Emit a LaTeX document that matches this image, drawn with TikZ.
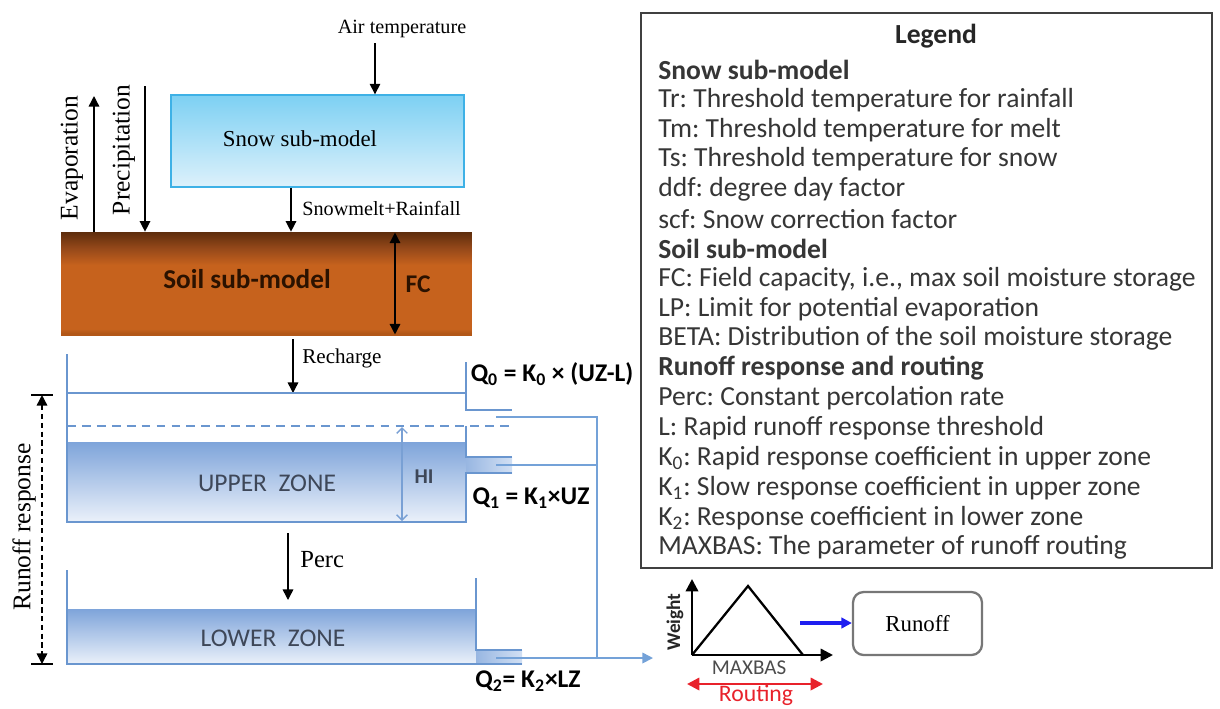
\documentclass[tikz,border=0pt]{standalone}
\usepackage{fontspec}
\setmainfont{Liberation Serif}
\newfontfamily\calibri{Carlito}
\usetikzlibrary{arrows.meta,shapes.misc}
\frenchspacing
\definecolor{snowT}{HTML}{7DD0F3}
\definecolor{snowB}{HTML}{DDF1FB}
\definecolor{snowE}{HTML}{3EB1E6}
\definecolor{soilT}{HTML}{5E2D0C}
\definecolor{soilM}{HTML}{96491A}
\definecolor{soilB}{HTML}{C6621D}
\definecolor{soilE}{HTML}{B25717}
\definecolor{tank}{HTML}{6A96CF}
\definecolor{waterT}{HTML}{7EA4DA}
\definecolor{waterB}{HTML}{EBF1FA}
\definecolor{pipe}{HTML}{B3CBEC}
\definecolor{flow}{HTML}{74A2D8}
\definecolor{legtext}{HTML}{363636}
\definecolor{zonetext}{HTML}{3E4758}
\definecolor{soiltext}{HTML}{2B1200}
\definecolor{runblue}{HTML}{1E1EF0}
\definecolor{routred}{HTML}{E8222B}
\definecolor{boxgray}{HTML}{777777}
\pgfdeclareverticalshading{soilshade}{100bp}{color(0bp)=(soilE); color(26bp)=(soilE); color(28bp)=(soilB); color(59bp)=(soilB); color(67bp)=(soilM); color(75bp)=(soilT); color(100bp)=(soilT)}
\tikzset{
  fsz/.style={font=\fontsize{#1}{#1}\selectfont},
  arr/.style={-{Triangle[length=6pt,width=6pt]}, line width=0.8pt},
  darr/.style={{Triangle[length=6pt,width=6pt]}-{Triangle[length=6pt,width=6pt]}, line width=0.8pt},
  tankline/.style={draw=tank, line width=1.2pt},
  flowline/.style={draw=flow, line width=0.9pt},
  legline/.style={anchor=west, inner sep=0pt, text=legtext, font=\calibri\fontsize{15.7}{17}\selectfont},
}
\begin{document}
\begin{tikzpicture}[x=0.02cm,y=-0.02cm]
\useasboundingbox (0,0) rectangle (1220,708);

% ---- snow ----
\node[fsz=11.5] (air) at (402,29) {Air temperature};
\node[draw=snowE, line width=0.8pt, top color=snowT, bottom color=snowB,
      minimum width=5.86cm, minimum height=1.84cm, inner sep=0pt] (snow) at (317.5,141) {};
\node[fsz=13] (snowtxt) at (300,139) {Snow sub-model};
\coordinate (airS) at (375,43);
\draw[arr] (airS) -- (airS |- snow.north);

% ---- soil ----
\node[shading=soilshade, minimum width=8.22cm, minimum height=2.06cm, inner sep=0pt] (soil) at (266.5,283.5) {};
\node[font=\calibri\bfseries\fontsize{15.5}{15.5}\selectfont, text=soiltext] (soiltxt) at (247,279) {Soil sub-model};
\node[font=\calibri\bfseries\fontsize{14.5}{14.5}\selectfont, text=soiltext] (fctxt) at (418,284) {FC};
\coordinate (fcx) at (395,0);
\draw[darr] ([yshift=-0.5pt]fcx |- soil.north) -- ([yshift=0.5pt]fcx |- soil.south);

% ---- evaporation / precipitation / snowmelt ----
\coordinate (evT) at (94,96);
\draw[arr] (evT |- soil.north) -- (evT);
\node[fsz=14.5, rotate=90] (evtxt) at (72,158) {Evaporation};
\coordinate (prT) at (145,86);
\draw[arr] (prT) -- (prT |- soil.north);
\node[fsz=14.5, rotate=90] (prtxt) at (124,150) {Precipitation};
\coordinate (smx) at (291,0);
\draw[arr] (smx |- snow.south) -- (smx |- soil.north);
\node[fsz=11.5, anchor=west, inner sep=0pt] (smtxt) at (302,208) {Snowmelt+Rainfall};

% ---- recharge ----
\coordinate (rcT) at (293,339);
\coordinate (rcB) at (293,393);
\draw[arr] (rcT) -- (rcB);
\node[fsz=12, anchor=west, inner sep=0pt] (rctxt) at (302,358) {Recharge};

% ---- upper zone tank ----
\shade[top color=waterT, bottom color=waterB] (67,442) rectangle (466,522);
\shade[left color=waterT!80, right color=pipe!60] (466,457) rectangle (512,473);
\draw[tankline] (67,354) -- (67,522) -- (466,522) -- (466,473) -- (512,473);
\draw[tankline] (466,362) -- (466,410) -- (512,410);
\draw[tankline] (466,426) -- (466,457) -- (512,457);
\draw[tankline] (67,393) -- (466,393);
\draw[tankline, dash pattern=on 5pt off 3.5pt] (67,426) -- (512,426);
\coordinate (hiT) at (402,427);
\coordinate (hiB) at (402,521);
\draw[draw=tank!90, line width=0.8pt, {Straight Barb[length=3pt,width=6pt]}-{Straight Barb[length=3pt,width=6pt]}] (hiT) -- (hiB);
\node[font=\calibri\bfseries\fontsize{12}{12}\selectfont, text=zonetext] (hitxt) at (424,477) {HI};
\node[font=\calibri\fontsize{14.5}{14.5}\selectfont, text=zonetext] (uztxt) at (267,483) {UPPER\ \ ZONE};

% ---- perc ----
\coordinate (pcT) at (288,533);
\coordinate (pcB) at (288,600);
\draw[arr] (pcT) -- (pcB);
\node[fsz=14, anchor=west, inner sep=0pt] (pctxt) at (300,560) {Perc};

% ---- lower zone tank ----
\shade[top color=waterT, bottom color=waterB] (67,609) rectangle (476,664);
\shade[left color=waterT!80, right color=pipe!60] (476,650) rectangle (522,664);
\draw[tankline] (67,570) -- (67,664) -- (522,664);
\draw[tankline] (476,578) -- (476,650) -- (522,650);
\node[font=\calibri\fontsize{14.5}{14.5}\selectfont, text=zonetext] (lztxt) at (273,638) {LOWER\ \ ZONE};

% ---- outflows ----
\coordinate (q0s) at (496,417);
\coordinate (q1s) at (496,465);
\coordinate (q2s) at (496,658);
\coordinate (jn) at (597,417);
\coordinate (jout) at (653,658);
\draw[flowline] (q0s) -- (jn) -- (jn |- jout);
\draw[flowline] (q1s) -- (q1s -| jn);
\draw[flowline, -{Triangle[length=6pt,width=6pt]}] (q2s) -- (jout);
\node[font=\calibri\bfseries\fontsize{14.5}{14.5}\selectfont] (q0) at (552,374) {Q\textsubscript{0} = K\textsubscript{0} × (UZ-L)};
\node[font=\calibri\bfseries\fontsize{14.5}{14.5}\selectfont] (q1) at (531,498) {Q\textsubscript{1} = K\textsubscript{1}×UZ};
\node[font=\calibri\bfseries\fontsize{14.5}{14.5}\selectfont] (q2) at (528,681) {Q\textsubscript{2}= K\textsubscript{2}×LZ};

% ---- runoff response dimension ----
\coordinate (rrT) at (42,395);
\coordinate (rrB) at (42,664);
\draw[line width=0.9pt] ([xshift=-6pt]rrT) -- ([xshift=6pt]rrT);
\draw[line width=0.9pt] ([xshift=-6pt]rrB) -- ([xshift=6pt]rrB);
\draw[line width=0.8pt, dash pattern=on 3pt off 2pt, {Triangle[length=6pt,width=6pt]}-{Triangle[length=6pt,width=6pt]}] (rrT) -- (rrB);
\node[fsz=14.5, rotate=90] (rrtxt) at (24,527) {Runoff response};

% ---- legend ----
\node[draw=black!75, line width=1.1pt, minimum width=11.42cm, minimum height=11.1cm, inner sep=0pt] (legend) at (926.5,290.5) {};
\node[font=\calibri\bfseries\fontsize{15.7}{17}\selectfont, text=black!85] (legtitle) at (936,36) {Legend};
\foreach \t [count=\i from 0] in {
  {\bfseries Snow sub-model},
  {Tr: Threshold temperature for rainfall},
  {Tm: Threshold temperature for melt},
  {Ts: Threshold temperature for snow},
  {ddf: degree day factor},
  {scf: Snow correction factor},
  {\bfseries Soil sub-model},
  {FC: Field capacity, i.e., max soil moisture storage},
  {LP: Limit for potential evaporation},
  {BETA: Distribution of the soil moisture storage},
  {\bfseries Runoff response and routing},
  {Perc: Constant percolation rate},
  {L: Rapid runoff response threshold},
  {K\textsubscript{0}: Rapid response coefficient in upper zone},
  {K\textsubscript{1}: Slow response coefficient in upper zone},
  {K\textsubscript{2}: Response coefficient in lower zone},
  {MAXBAS: The parameter of runoff routing}}
  \node[legline] (leg\i) at (658,{70+29.86*\i}) {\t};

% ---- routing ----
\coordinate (org) at (692,655);
\coordinate (wT) at (692,579);
\coordinate (mR) at (833,655);
\coordinate (apex) at (748,586);
\coordinate (tR) at (803,655);
\draw[line width=1.4pt, -{Triangle[length=7pt,width=7pt]}] (org) -- (wT);
\draw[line width=1.4pt, -{Triangle[length=7pt,width=7pt]}] (org) -- (mR);
\draw[line width=1.3pt, line join=miter] (org) -- (apex) -- (tR);
\node[font=\calibri\bfseries\fontsize{11}{11}\selectfont, rotate=90, text=black!85] (wtxt) at (675,622) {Weight};
\node[font=\calibri\fontsize{12}{12}\selectfont, text=black!70] (mbtxt) at (749,668) {MAXBAS};
\coordinate (rtL) at (687,684);
\coordinate (rtR) at (823,684);
\draw[draw=routred, line width=1.4pt, {Triangle[length=7pt,width=7pt]}-{Triangle[length=7pt,width=7pt]}] (rtL) -- (rtR);
\node[font=\calibri\fontsize{13.5}{13.5}\selectfont, text=routred, anchor=base] (rttxt) at (756,701) {Routing};
\node[draw=boxgray, line width=1.3pt, rounded corners=6pt, minimum width=2.58cm, minimum height=1.26cm, fsz=13] (runoff) at (917.5,623.5) {Runoff};
\coordinate (baS) at (800,623);
\draw[draw=runblue, line width=2pt, -{Triangle[length=6pt,width=6pt]}] (baS) -- (baS -| runoff.west);
\end{tikzpicture}
\end{document}
